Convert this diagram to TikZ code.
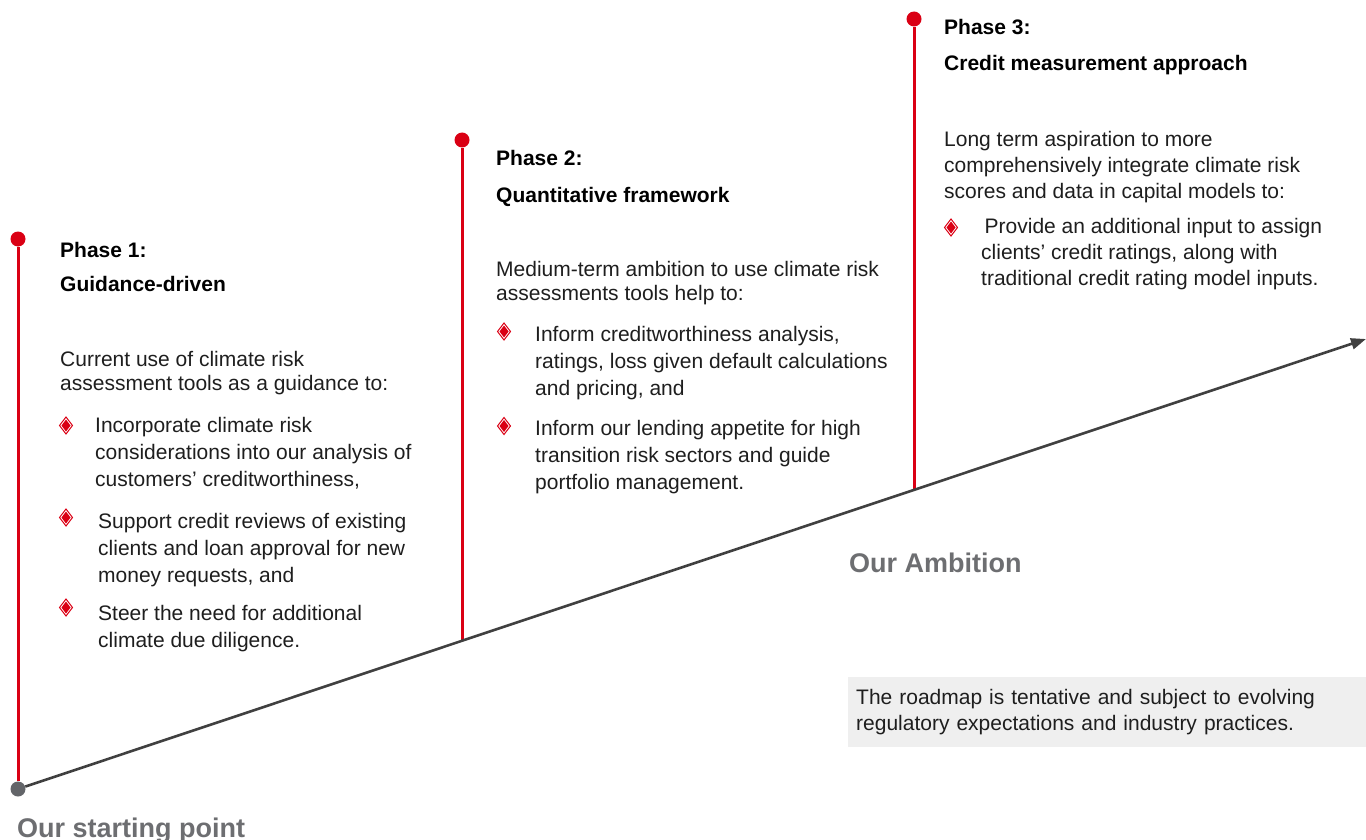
\documentclass[tikz,border=0pt]{standalone}
\usepackage{fontspec}
\setmainfont{Liberation Sans}
\usepackage{xcolor}
\usepackage{tikz}
\usetikzlibrary{arrows.meta,positioning,calc}

\definecolor{kred}{HTML}{DA0014}
\definecolor{kdark}{HTML}{404040}
\definecolor{kgrey}{HTML}{6D6E71}
\definecolor{kdot}{HTML}{636569}
\definecolor{ktext}{HTML}{1E1E1E}
\definecolor{kbg}{HTML}{EFEFEF}

% red diamond bullet
\tikzset{gem/.pic={
  \draw[kred, line width=1pt] (0,-8.5) -- (6.5,0) -- (0,8.5) -- (-6.5,0) -- cycle;
  \fill[kred] (0,-6) -- (4.5,0) -- (0,6) -- (-4.5,0) -- cycle;
}}

\begin{document}
\begin{tikzpicture}[
  x=1pt, y=-1pt,
  stem/.style={draw=kred, line width=3pt},
  axis/.style={draw=kdark, line width=2.6pt, -{Triangle[length=15pt,width=11pt]}},
  reddot/.style={circle, fill=kred, minimum size=15pt, inner sep=0pt},
  startdot/.style={circle, fill=kdot, minimum size=15pt, inner sep=0pt},
  phase/.style={anchor=base west, inner sep=0pt, font=\fontsize{21}{24}\selectfont\bfseries},
  body/.style={anchor=north west, inner sep=0pt, align=left, text=ktext, font=\fontsize{21}{24}\selectfont},
  item/.style={body, font=\fontsize{21}{27}\selectfont},
  milestone/.style={anchor=base west, inner sep=0pt, text=kgrey, font=\fontsize{27}{30}\selectfont\bfseries},
  note/.style={anchor=north west, fill=kbg, text=ktext, align=left, text width=502pt,
    inner xsep=8pt, inner ysep=12pt, font=\fontsize{21}{26}\selectfont}
]
\useasboundingbox (0,0) rectangle (1366,840);

% Axis and milestones
\node[startdot] (start) at (18,789) {};
\coordinate (tip) at (1366,339);
\coordinate (a2) at ($(start)!0.3294!(tip)$);
\coordinate (a3) at ($(start)!0.6647!(tip)$);

\node[reddot] (p1) at (start |- 0,239) {};
\node[reddot] (p2) at (a2 |- 0,140) {};
\node[reddot] (p3) at (a3 |- 0,19) {};

\draw[stem] (start) -- (p1);
\draw[stem] (a2) -- (p2);
\draw[stem] (a3) -- (p3);
\draw[axis] (start) -- (tip);

% Phase 1
\node[phase] (h1) at (60,257) {Phase 1:};
\node[phase] (t1) at (60,291) {Guidance-driven};
\node[body] (d1) at (60,351) {Current use of climate risk\\assessment tools as a guidance to:};
\pic at (66,425.5) {gem};
\node[item] (b11) at (95,417) {Incorporate climate risk\\considerations into our analysis of\\customers' creditworthiness,};
\pic at (66,517.5) {gem};
\node[item] (b12) at (98,513) {Support credit reviews of existing\\clients and loan approval for new\\money requests, and};
\pic at (66,607.5) {gem};
\node[item] (b13) at (98,605) {Steer the need for additional\\climate due diligence.};

% Phase 2
\node[phase] (h2) at (496,165) {Phase 2:};
\node[phase] (t2) at (496,203) {Quantitative framework};
\node[body] (d2) at (496,261) {Medium-term ambition to use climate risk\\assessments tools help to:};
\pic at (504,331.5) {gem};
\node[item] (b21) at (535,326) {Inform creditworthiness analysis,\\ratings, loss given default calculations\\and pricing, and};
\pic at (504,426) {gem};
\node[item] (b22) at (535,420) {Inform our lending appetite for high\\transition risk sectors and guide\\portfolio management.};

% Phase 3
\node[phase] (h3) at (944,35) {Phase 3:};
\node[phase] (t3) at (944,71) {Credit measurement approach};
\node[body, font=\fontsize{21}{26}\selectfont] (d3) at (944,131) {Long term aspiration to more\\comprehensively integrate climate risk\\scores and data in capital models to:};
\pic at (951,227.5) {gem};
\node[item, font=\fontsize{21}{26}\selectfont] (b31) at (981,218) {\,Provide an additional input to assign\\clients' credit ratings, along with\\traditional credit rating model inputs.};

% Labels along the axis
\node[milestone] (amb) at (849,572.7) {Our Ambition};
\node[milestone] (sp) at (17,837) {Our starting point};

% Disclaimer
\node[note] (disc) at (848,677) {The roadmap is tentative and subject to evolving\\regulatory expectations and industry practices.};

\end{tikzpicture}
\end{document}
